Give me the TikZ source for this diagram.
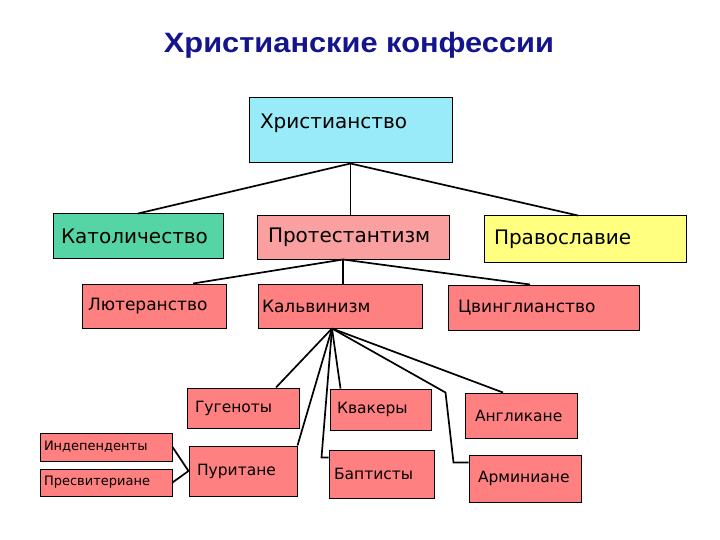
\documentclass[tikz,border=0pt]{standalone}
\usepackage{fontspec}
\setmainfont{DejaVu Sans}
\newfontfamily\titlefont{Liberation Sans}
\usepackage{tikz}
\usetikzlibrary{calc}
\definecolor{titleblue}{RGB}{20, 20, 140}
\definecolor{chrcyan}{RGB}{153, 235, 250}
\definecolor{cathgreen}{RGB}{85, 212, 165}
\definecolor{protpink}{RGB}{250, 160, 160}
\definecolor{orthyellow}{RGB}{255, 255, 128}
\definecolor{salmon}{RGB}{255, 128, 128}

\begin{document}
\begin{tikzpicture}[
    x=1pt, y=-1pt,
    box/.style={rectangle, draw=black, line width=1pt, fill=#1, align=left,
                inner xsep=8pt, inner ysep=0pt},
    box/.default=salmon,
    fsbig/.style={font=\fontsize{20}{24}\selectfont},
    fsmid/.style={font=\fontsize{17}{20}\selectfont},
    fssmall/.style={font=\fontsize{15.5}{18}\selectfont},
    fstiny/.style={font=\fontsize{13}{15}\selectfont},
    link/.style={line width=1.7pt, black}
]
\fill[white] (0,0) rectangle (720,540);
\useasboundingbox (0,0) rectangle (720,540);

% Title
\node[font=\titlefont\bfseries\fontsize{28}{32}\selectfont, text=titleblue] (title) at (359,45) {\scalebox{1.1}[1]{Христианские конфессии}};

% Top level
\node[box=chrcyan, fsbig, text width=181pt, inner xsep=11pt, text height=31pt, text depth=34pt] (chr) at (350.5,130.5) {Христианство};
\node[box=cathgreen, fsbig, text width=154pt, minimum height=44pt] (cath) at (138,236) {Католичество};
\node[box=protpink, fsbig, text width=170pt, inner xsep=11pt, minimum height=43pt] (prot) at (353,237.5) {Протестантизм};
\node[box=orthyellow, fsbig, text width=182pt, inner xsep=10pt, minimum height=46pt] (orth) at (585,239) {Православие};

% Protestant branches
\node[box, fsmid, text width=132pt, inner xsep=6pt, minimum height=44pt] (luth) at (154,306) {Лютеранство};
\node[box, fsmid, text width=156pt, inner xsep=4pt, minimum height=44pt] (calv) at (340,306) {Кальвинизм};
\node[box, fsmid, text width=171pt, inner xsep=10pt, minimum height=45pt] (zwin) at (543.5,307.5) {Цвинглианство};

% Calvinist groups
\node[box, fssmall, text width=96pt, minimum height=40pt] (hug) at (243,408) {Гугеноты};
\node[box, fssmall, text width=87pt, inner xsep=7pt, minimum height=41pt] (quak) at (380.5,409.5) {Квакеры};
\node[box, fssmall, text width=92pt, inner xsep=10pt, minimum height=45pt] (angl) at (521,415.5) {Англикане};
\node[box, fssmall, text width=92pt, minimum height=50pt] (purit) at (243,471) {Пуритане};
\node[box, fssmall, text width=95pt, inner xsep=5pt, minimum height=48pt] (bapt) at (381.5,474) {Баптисты};
\node[box, fssmall, text width=94pt, inner xsep=9pt, minimum height=47pt] (armin) at (525,478.5) {Арминиане};
\node[box, fstiny, text width=124pt, inner xsep=4pt, minimum height=28pt] (indep) at (106,447) {Индепенденты};
\node[box, fstiny, text width=124pt, inner xsep=4pt, minimum height=27pt] (presb) at (106,482.5) {Пресвитериане};

% Christianity links
\draw[link] (chr.south) -- (cath.north);
\draw[link] (chr.south) -- (chr.south |- prot.north);
\draw[link] (chr.south) -- ($(orth.north)+(-7,0)$);

% Protestantism links
\coordinate (prothub) at ($(prot.south)+(-10,0)$);
\draw[link] (prothub) -- ($(luth.north)+(39,0)$);
\draw[link] (prothub) -- (prothub |- calv.north);
\draw[link] (prothub) -- ($(zwin.north)+(-13.5,0)$);

% Calvinism links
\coordinate (calvhub) at ($(calv.south)+(-8,0)$);
\draw[link] (calvhub) -- ($(hug.north)+(33,0)$);
\draw[link] (calvhub) -- (purit.north east);
\draw[link] (calvhub) -- ($(quak.north west)+(11,0)$);
\draw[link] (calvhub) -- ($(bapt.north west)+(-7,8)$) -- ($(bapt.north west)+(0,8)$);
\draw[link] (calvhub) -- ($(armin.north west)+(-23,-62)$) -- ($(armin.north west)+(-15,8)$) -- ($(armin.north west)+(0,8)$);
\draw[link] (calvhub) -- ($(angl.north)+(-18,0)$);

% Puritans
\draw[link] (indep.east) -- (purit.west);
\draw[link] (presb.east) -- (purit.west);
\end{tikzpicture}
\end{document}
